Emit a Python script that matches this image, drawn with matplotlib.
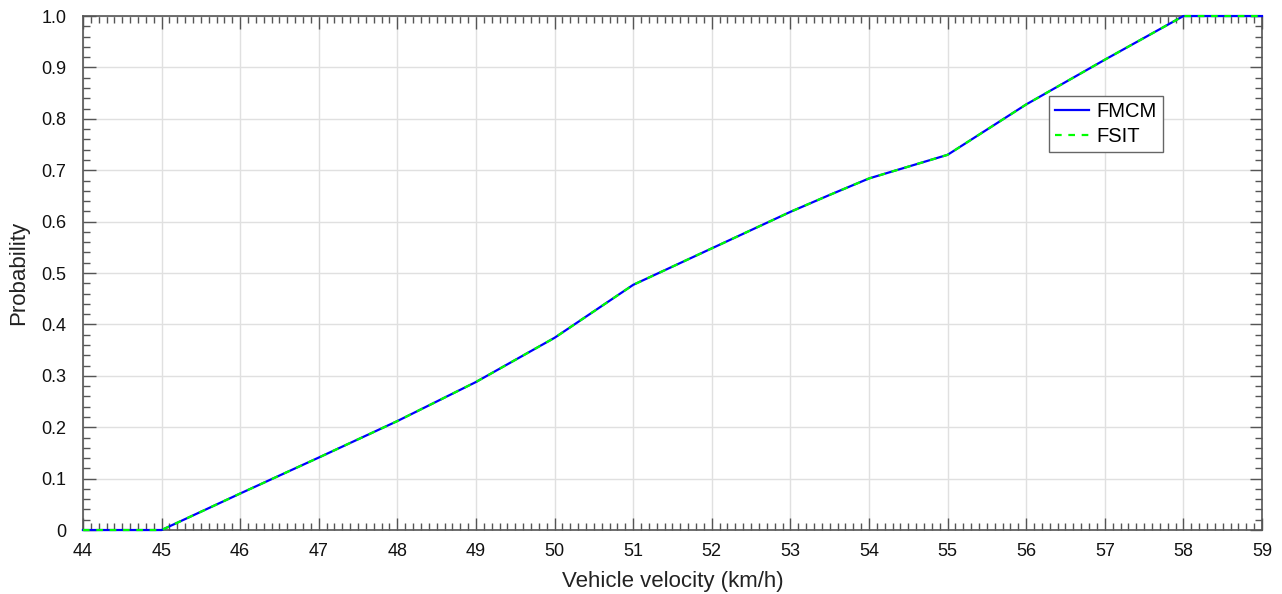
import numpy as np
import matplotlib
matplotlib.use('Agg')
import matplotlib.pyplot as plt
from matplotlib.ticker import MultipleLocator

plt.rcParams['font.family'] = ['Liberation Sans', 'DejaVu Sans']

# velocity (km/h) and probability
velocity = [44, 45, 46, 47, 48, 49, 50, 51, 52, 53, 53.5, 54, 55, 56, 57, 58, 59]
prob_fmcm = [0, 0, 0.071, 0.141, 0.212, 0.288, 0.374, 0.477, 0.548, 0.619, 0.652, 0.684, 0.730, 0.828, 0.915, 1.0, 1.0]
prob_fsit = prob_fmcm

fig = plt.figure(figsize=(12.82, 5.94), dpi=100)
ax = fig.add_axes([0.0647, 0.1077, 0.9197, 0.8653])

ax.plot(velocity, prob_fmcm, color='#0000ff', lw=1.6, label='FMCM', clip_on=False, zorder=4)
ax.plot(velocity, prob_fsit, color='#00ff00', lw=1.6, ls=(0, (3, 3)), label='FSIT', clip_on=False, zorder=5)

ax.set_xlim(44, 59)
ax.set_ylim(0, 1.0)
ax.xaxis.set_major_locator(MultipleLocator(1))
ax.xaxis.set_minor_locator(MultipleLocator(0.1))
ax.yaxis.set_minor_locator(MultipleLocator(0.02))
ax.set_yticks(np.arange(0, 1.01, 0.1))
ax.set_yticklabels(['0'] + ['%.1f' % v for v in np.arange(0.1, 1.01, 0.1)])

ax.tick_params(which='both', direction='in', top=True, right=True, color='#555555',
               labelsize=13, labelcolor='#111111')
ax.tick_params(which='major', length=9, width=1)
ax.tick_params(which='minor', length=5, width=1)
ax.tick_params(axis='x', pad=9)
ax.tick_params(axis='y', pad=12)
for s in ax.spines.values():
    s.set_color('#555555')
    s.set_linewidth(1.2)

ax.grid(True, which='major', color='#e0e0e0', lw=1)
ax.set_axisbelow(True)

ax.set_xlabel('Vehicle velocity (km/h)', fontsize=16, color='#222222', labelpad=8)
ax.set_ylabel('Probability', fontsize=16, color='#222222', labelpad=9)

leg = ax.legend(loc='upper left', bbox_to_anchor=(0.8195, 0.845), fontsize=14.5,
                fancybox=False, framealpha=1, edgecolor='#666666',
                handlelength=1.7, borderpad=0.3, labelspacing=0.3, handletextpad=0.35,
                borderaxespad=0)
leg.get_frame().set_linewidth(1)

plt.savefig('out.png', dpi=100)
